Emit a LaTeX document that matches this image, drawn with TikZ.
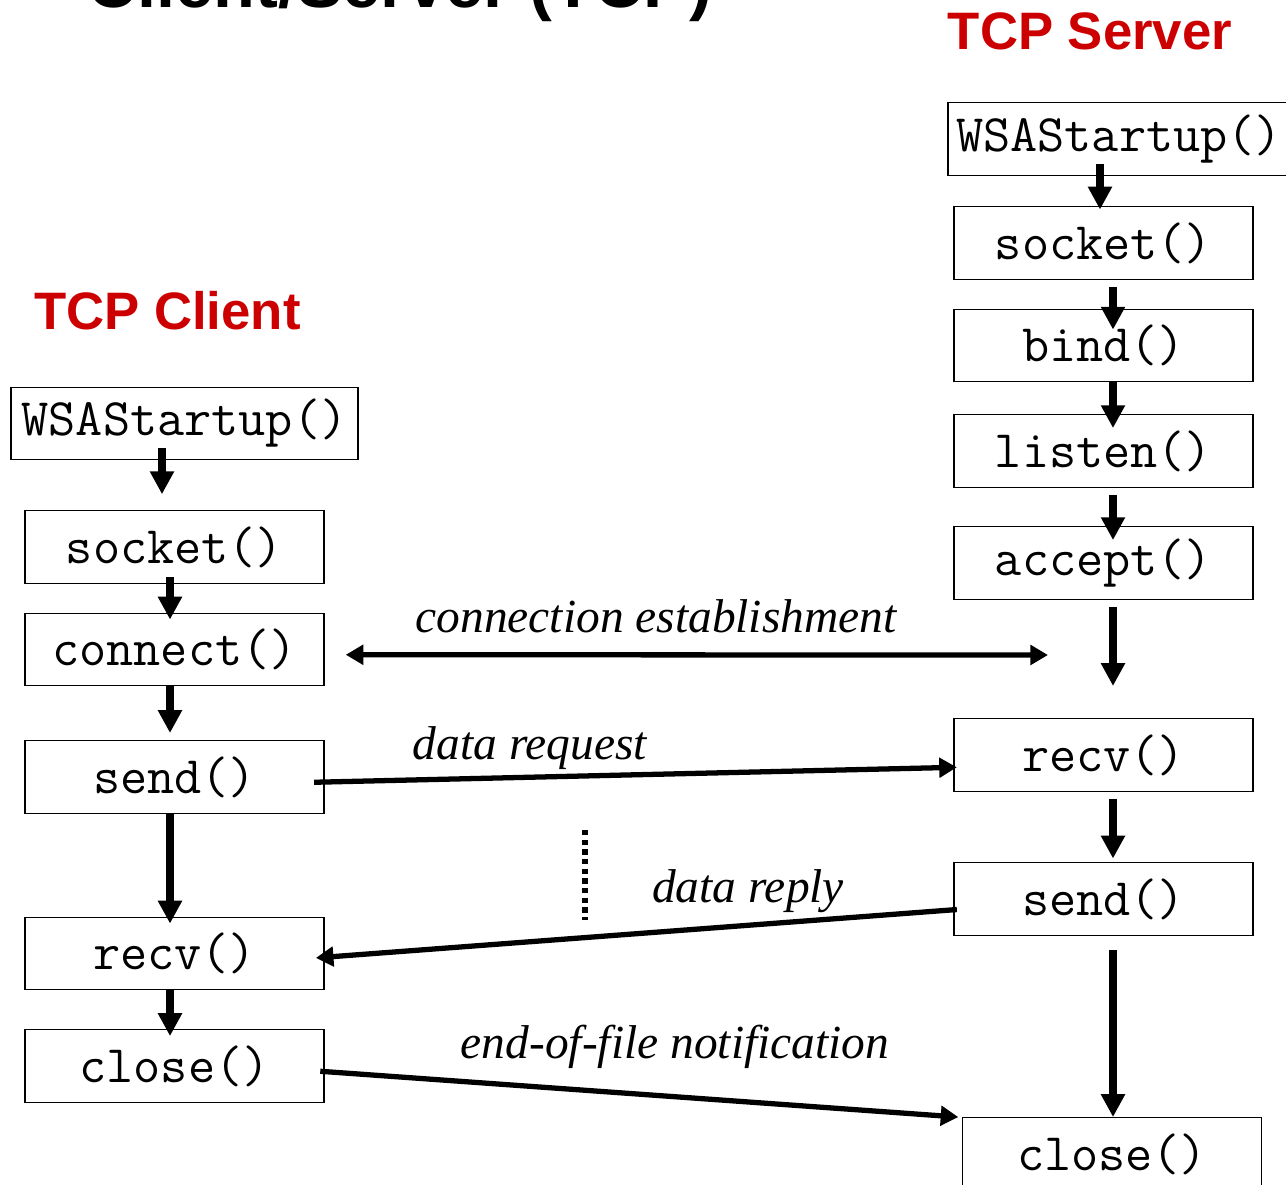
\documentclass[tikz,border=0pt]{standalone}
\usepackage{fontspec}
\newfontfamily\notefont{Liberation Serif}
\newfontfamily\headfont{Liberation Sans}
\usetikzlibrary{arrows.meta}
\definecolor{headred}{RGB}{204,0,0}

\begin{document}
\begin{tikzpicture}[x=0.02cm, y=-0.02cm,
  call/.style={draw, line width=0.8pt, minimum width=5.98cm, minimum height=1.45cm,
    inner sep=0pt, font=\ttfamily\fontsize{30}{32}\selectfont},
  flow/.style={line width=4.4pt, -{Triangle[length=13pt,width=13pt]}},
  msg/.style={line width=3pt, -{Triangle[length=10pt,width=11pt]}},
  note/.style={anchor=base, font=\notefont\itshape\fontsize{27}{30}\selectfont},
  side/.style={anchor=base, text=headred, font=\headfont\bfseries\fontsize{30}{32}\selectfont}]
\useasboundingbox (0,0) rectangle (1286,1185);
\clip (0,0) rectangle (1286,1185);

%--- titolo (tagliato in alto) ---
\node[anchor=base, font=\headfont\bfseries\fontsize{39}{42}\selectfont] (title) at (400,8) {Client/Server (TCP)};

%--- client ---
\node[side] (chead) at (167.5,330) {TCP Client};
\node[call, minimum width=6.94cm] (cw) at (184.5,423.5) {WSAStartup()};
\node[call] (cs) at (174.5,547) {socket()};
\node[call] (cc) at (174.5,649.5) {connect()};
\node[call] (cd) at (174.5,777) {send()};
\node[call] (cr) at (174.5,953.5) {recv()};
\node[call] (cx) at (174.5,1066) {close()};

%--- server ---
\node[side] (shead) at (1090,50) {TCP Server};
\node[call, minimum width=6.84cm] (sw) at (1119,139) {WSAStartup()};
\node[call] (ss) at (1103.5,243) {socket()};
\node[call] (sb) at (1103.5,345.5) {bind()};
\node[call] (sl) at (1103.5,451) {listen()};
\node[call] (sa) at (1103.5,563) {accept()};
\node[call] (sr) at (1103.5,755) {recv()};
\node[call] (sd) at (1103.5,899) {send()};
\node[call] (sx) at (1112,1154) {close()};

% colonne delle frecce
\coordinate (cwcol) at (162,0);
\coordinate (ccol) at (170,0);
\coordinate (swcol) at (1100,0);
\coordinate (scol) at (1113,0);
\coordinate (sgap) at (1113,686);

% frecce verticali client
\draw[flow, shorten <=-7pt, shorten >=9pt] (cw.south -| cwcol) -- (cs.north -| cwcol);
\draw[flow, shorten <=-4pt, shorten >=-4pt] (cs.south -| ccol) -- (cc.north -| ccol);
\draw[flow, shorten >=4pt] (cc.south -| ccol) -- (cd.north -| ccol);
\draw[flow, shorten >=-4pt] (cd.south -| ccol) -- (cr.north -| ccol);
\draw[flow, shorten >=-4pt] (cr.south -| ccol) -- (cx.north -| ccol);

% frecce verticali server
\draw[flow, shorten <=-7pt, shorten >=-2pt] (sw.south -| swcol) -- (ss.north -| swcol);
\draw[flow, shorten <=4pt, shorten >=-12pt] (ss.south -| scol) -- (sb.north -| scol);
\draw[flow, shorten >=-8pt] (sb.south -| scol) -- (sl.north -| scol);
\draw[flow, shorten <=4pt, shorten >=-8pt] (sl.south -| scol) -- (sa.north -| scol);
\draw[flow, shorten <=4pt] (sa.south -| scol) -- (sgap);
\draw[flow, shorten <=4pt, shorten >=2pt] (sr.south -| scol) -- (sd.north -| scol);
\draw[flow, shorten <=8pt] (sd.south -| scol) -- (sx.north -| scol);

%--- messaggi ---
\coordinate (estab) at (1048,655);
\draw[msg, {Triangle[length=10pt,width=11pt]}-{Triangle[length=10pt,width=11pt]}]
  ([xshift=12pt,yshift=-3pt]cc.east) -- (estab);
\node[note] (lestab) at (656,633) {connection establishment};

\draw[msg] ([xshift=-6pt,yshift=-3pt]cd.east) -- ([xshift=2pt,yshift=-7pt]sr.west);
\node[note] (lreq) at (530,760) {data request};

\draw[msg] ([xshift=2pt,yshift=-6pt]sd.west) -- ([xshift=-5pt,yshift=-2.5pt]cr.east);
\node[note] (lrep) at (748,903) {data reply};

\draw[msg] ([xshift=-2.5pt,yshift=-3pt]cx.east) -- ([xshift=-2pt]sx.north west);
\node[note] (leof) at (675,1058) {end-of-file notification};

% puntini
\draw[line width=3pt, dash pattern=on 3pt off 2.5pt] (585,830) -- (585,920);
\end{tikzpicture}
\end{document}
